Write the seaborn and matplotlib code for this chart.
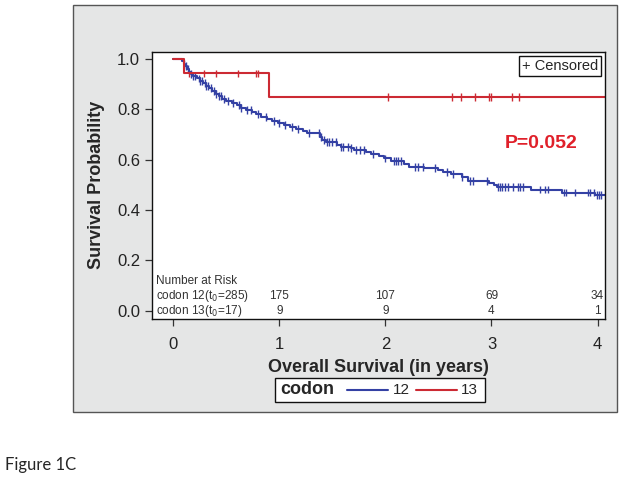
import numpy as np
import pandas as pd
import matplotlib.pyplot as plt
import seaborn as sns
from matplotlib.patches import Rectangle
from matplotlib.lines import Line2D

# Kaplan-Meier step values (time in years, survival)
blue_time = [0.0, 0.08, 0.10, 0.11, 0.13, 0.15, 0.17, 0.19, 0.22, 0.25, 0.28, 0.31, 0.34,
             0.37, 0.40, 0.43, 0.46, 0.50, 0.55, 0.60, 0.64, 0.69, 0.74, 0.78, 0.83, 0.88,
             0.93, 0.99, 1.04, 1.10, 1.16, 1.22, 1.26, 1.38, 1.40, 1.44, 1.54, 1.58, 1.68,
             1.70, 1.82, 1.86, 1.94, 1.99, 2.05, 2.18, 2.22, 2.36, 2.50, 2.54, 2.62, 2.72,
             2.78, 2.98, 3.02, 3.05, 3.37, 3.66, 3.98, 4.07]
blue_surv = [1.0, 0.99, 0.98, 0.97, 0.958, 0.947, 0.938, 0.93, 0.921, 0.911, 0.902, 0.892, 0.882,
             0.870, 0.858, 0.850, 0.841, 0.833, 0.824, 0.815, 0.805, 0.796, 0.787, 0.779, 0.768, 0.760,
             0.753, 0.745, 0.738, 0.728, 0.720, 0.712, 0.704, 0.690, 0.677, 0.668, 0.659, 0.650, 0.644,
             0.637, 0.628, 0.621, 0.612, 0.604, 0.595, 0.583, 0.571, 0.565, 0.558, 0.551, 0.541, 0.531,
             0.515, 0.507, 0.498, 0.492, 0.481, 0.469, 0.460, 0.460]
red_time = [0.0, 0.10, 0.905, 4.07]
red_surv = [1.0, 0.941, 0.847, 0.847]

blue_censor = [0.10, 0.12, 0.14, 0.17, 0.19, 0.21, 0.24, 0.25, 0.27, 0.30, 0.31, 0.33, 0.36,
               0.38, 0.40, 0.43, 0.45, 0.48, 0.52, 0.56, 0.62, 0.64, 0.70, 0.73, 0.80, 0.87,
               0.95, 1.00, 1.05, 1.12, 1.18, 1.28, 1.37, 1.39, 1.42, 1.45, 1.47, 1.50, 1.53,
               1.58, 1.60, 1.65, 1.68, 1.72, 1.76, 1.80, 1.88, 2.00, 2.08, 2.10, 2.12, 2.15,
               2.28, 2.31, 2.35, 2.47, 2.58, 2.64, 2.72, 2.80, 2.83, 2.96, 3.06, 3.08, 3.10,
               3.13, 3.16, 3.20, 3.25, 3.27, 3.30, 3.46, 3.50, 3.53, 3.68, 3.70, 3.79, 3.91,
               3.93, 3.97, 3.99, 4.01, 4.03]
red_censor = [0.15, 0.29, 0.40, 0.61, 0.78, 0.80, 2.02, 2.63, 2.71, 2.84, 2.98, 3.00, 3.19, 3.26]

risk_times = [1, 2, 3, 4]
risk_12 = [175, 107, 69, 34]
risk_13 = [9, 9, 4, 1]

blue = '#3441a4'
red = '#cc2a33'

curves = pd.concat([
    pd.DataFrame({'time': blue_time, 'surv': blue_surv, 'codon': '12'}),
    pd.DataFrame({'time': red_time, 'surv': red_surv, 'codon': '13'}),
])


def surv_at(times, tt, ss):
    idx = np.searchsorted(tt, times, side='right') - 1
    return np.asarray(ss)[idx]


censor = pd.concat([
    pd.DataFrame({'time': blue_censor, 'surv': surv_at(blue_censor, blue_time, blue_surv), 'codon': '12'}),
    pd.DataFrame({'time': red_censor, 'surv': surv_at(red_censor, red_time, red_surv), 'codon': '13'}),
])

sns.set_style('ticks')
plt.rcParams['font.family'] = ['Liberation Sans', 'DejaVu Sans']

fig = plt.figure(figsize=(6.21, 4.80), dpi=100)
W, H = 621, 480

# grey SAS-style panel
fig.patches.append(Rectangle((73 / W, 1 - 412 / H), 544 / W, 407 / H, transform=fig.transFigure,
                             facecolor='#e5e6e6', edgecolor='#555555', linewidth=1.0, zorder=-1))

ax = fig.add_axes([152 / W, 1 - 318.5 / H, 453 / W, 266.5 / H])
ax.set_zorder(1)
ax.set_facecolor('white')

palette = {'12': blue, '13': red}
sns.lineplot(data=curves, x='time', y='surv', hue='codon', palette=palette, estimator=None,
             drawstyle='steps-post', linewidth=1.5, legend=False, ax=ax)
sns.scatterplot(data=censor, x='time', y='surv', hue='codon', palette=palette, marker='|',
                s=32, linewidth=1.0, legend=False, ax=ax)

ax.set_xlim(-0.2, 4.07)
ax.set_ylim(-0.03, 1.026)
ax.set_xticks([0, 1, 2, 3, 4])
ax.set_yticks([0.0, 0.2, 0.4, 0.6, 0.8, 1.0])
ax.set_yticklabels(['0.0', '0.2', '0.4', '0.6', '0.8', '1.0'])
ax.tick_params(axis='both', labelsize=12, length=5, width=0.9, color='#333333', labelcolor='#222222')
ax.tick_params(axis='x', pad=8)
for sp in ax.spines.values():
    sp.set_visible(True)
    sp.set_color('#111111')
    sp.set_linewidth(1.0)

ax.set_xlabel('Overall Survival (in years)', fontsize=13, fontweight='bold', labelpad=5)
ax.set_ylabel('Survival Probability', fontsize=13, fontweight='bold', labelpad=9)

# number at risk table
ax.text(-0.16, 0.117, 'Number at Risk', fontsize=8.5, color='#333333', va='center')
ax.text(-0.16, 0.060, 'codon 12(t$_0$=285)', fontsize=8.5, color='#333333', va='center')
ax.text(-0.16, 0.000, 'codon 13(t$_0$=17)', fontsize=8.5, color='#333333', va='center')
for t, a, b in zip(risk_times, risk_12, risk_13):
    ax.text(t, 0.060, str(a), fontsize=8.5, color='#333333', ha='center', va='center')
    ax.text(t, 0.000, str(b), fontsize=8.5, color='#333333', ha='center', va='center')

ax.text(3.47, 0.665, 'P=0.052', fontsize=14, fontweight='bold', color='#e0202a',
        ha='center', va='center')
ax.text(0.985, 0.975, '+ Censored', transform=ax.transAxes, fontsize=10.5, ha='right', va='top',
        bbox=dict(boxstyle='square,pad=0.2', facecolor='white', edgecolor='#111111', linewidth=1.0))

# bottom legend
fig.patches.append(Rectangle((275 / W, 1 - 402 / H), 210 / W, 24 / H, transform=fig.transFigure,
                             facecolor='white', edgecolor='#111111', linewidth=1.0, zorder=2))
ly = 1 - 390 / H
fig.text(280 / W, ly, 'codon', fontsize=13, fontweight='bold', va='center', zorder=3)
fig.lines.append(Line2D([347 / W, 388 / W], [ly, ly], transform=fig.transFigure, color=blue,
                        linewidth=1.5, zorder=3))
fig.text(393 / W, ly, '12', fontsize=11, va='center', zorder=3)
fig.lines.append(Line2D([416 / W, 457 / W], [ly, ly], transform=fig.transFigure, color=red,
                        linewidth=1.5, zorder=3))
fig.text(461 / W, ly, '13', fontsize=11, va='center', zorder=3)

fig.text(5 / W, 1 - 465 / H, 'Figure 1C', fontsize=12, family=['Lato', 'DejaVu Sans'], va='center')

fig.savefig('out.png', dpi=100)
